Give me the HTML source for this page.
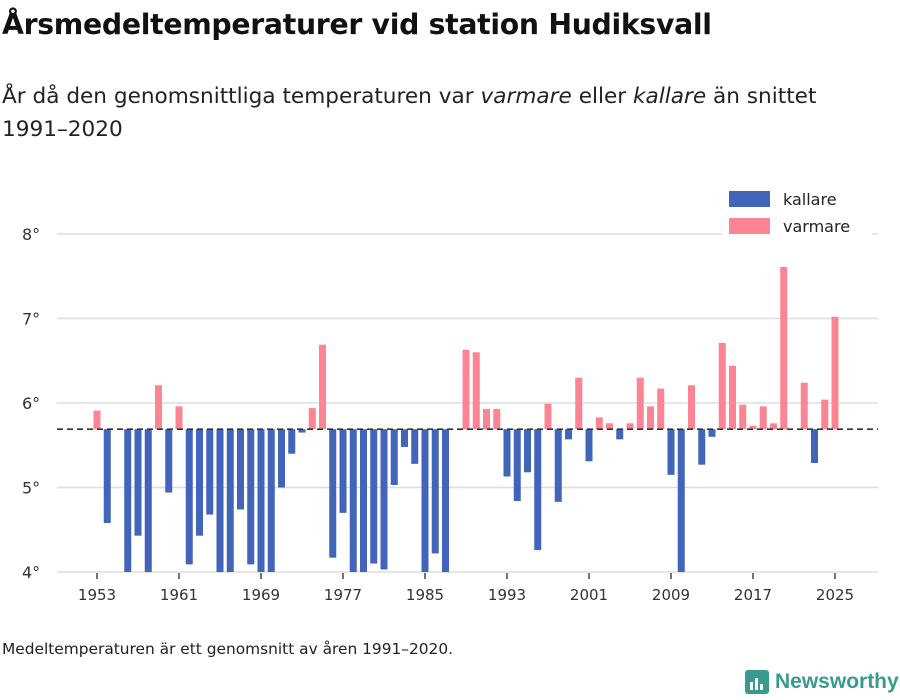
<!DOCTYPE html>
<html><head><meta charset="utf-8"><style>
body{margin:0;background:#fff;font-family:"DejaVu Sans","Liberation Sans",sans-serif;color:#222;}
#wrap{position:relative;width:900px;height:700px;overflow:hidden;}
h1{position:absolute;left:2px;top:8px;margin:0;font-size:28.3px;font-weight:bold;color:#111;white-space:nowrap;letter-spacing:-0.3px;}
.sub{position:absolute;left:2px;top:80px;margin:0;font-size:21.6px;line-height:33px;color:#222;width:880px;white-space:nowrap;}
.foot{position:absolute;left:2px;top:640px;font-size:15.4px;color:#222;}
.logo{position:absolute;left:745px;top:670px;display:flex;align-items:center;font-size:21px;font-weight:bold;color:#3a9a8e;font-family:"Liberation Sans",sans-serif;}
</style></head><body>
<div id="wrap">
<h1>Årsmedeltemperaturer vid station Hudiksvall</h1>
<p class="sub">År då den genomsnittliga temperaturen var <i>varmare</i> eller <i>kallare</i> än snittet<br>1991–2020</p>
<svg id="chart" width="900" height="700" style="position:absolute;left:0;top:0"></svg>
<div class="foot">Medeltemperaturen är ett genomsnitt av åren 1991–2020.</div>
<div class="logo"><svg width="24" height="24" style="margin-right:6px"><rect width="24" height="24" rx="3" fill="#3a9a8e"/><rect x="5" y="12" width="3" height="8" fill="#fff"/><rect x="10" y="8" width="3" height="12" fill="#fff"/><rect x="15" y="14" width="3" height="6" fill="#fff"/></svg>Newsworthy</div>
</div>
<script>
const startYear = 1953;
const values = [5.91,4.58,null,3.99,4.43,4.0,6.21,4.94,5.96,4.09,4.43,4.68,4.0,4.0,4.74,4.09,4.0,4.0,5.0,5.40,5.65,5.94,6.69,4.17,4.70,4.0,4.0,4.10,4.03,5.03,5.48,5.28,4.0,4.22,4.0,null,6.63,6.60,5.93,5.93,5.13,4.84,5.18,4.26,5.99,4.83,5.57,6.30,5.31,5.83,5.76,5.57,5.76,6.30,5.96,6.17,5.15,3.99,6.21,5.27,5.60,6.71,6.44,5.98,5.73,5.96,5.76,7.61,null,6.24,5.29,6.04,7.02];
const baseline = 5.69;
const yTicks = [4,5,6,7,8];
const xTicks = [1953,1961,1969,1977,1985,1993,2001,2009,2017,2025];
const NS='http://www.w3.org/2000/svg';
const svg=document.getElementById('chart');
const x=y=>97+(y-1953)*10.25;
const yS=v=>572-(v-4)*84.5;
function el(t,a){const e=document.createElementNS(NS,t);for(const k in a)e.setAttribute(k,a[k]);svg.appendChild(e);return e;}
yTicks.forEach(t=>{
 const g=el('line',{x1:57,x2:878,y1:yS(t),y2:yS(t),stroke:'#ddd','stroke-width':1.5});
 
 
 const l=el('text',{x:22,y:yS(t)+6,'font-size':16,fill:'#333'});l.textContent=t+'°';
 
 
});
xTicks.forEach(t=>{
 const m=el('line',{x1:x(t),x2:x(t),y1:573,y2:579,stroke:'#444','stroke-width':1.5});
 
 
 const l=el('text',{x:x(t),y:600,'font-size':15,fill:'#333','text-anchor':'middle'});l.textContent=t;
 
 
});
values.forEach((v,i)=>{
 if(v===null)return;
 const yr=startYear+i;const warm=v>=baseline;
 const vv=Math.max(v,4);
 const y0=Math.min(yS(vv),yS(baseline)),h=Math.abs(yS(vv)-yS(baseline));
 const b=el('rect',{x:x(yr)-3.5,y:y0,width:7,height:h,fill:warm?'#fc8493':'#4264b9'});
 
 
});
const bl=el('line',{x1:57,x2:878,y1:yS(baseline),y2:yS(baseline),stroke:'#333','stroke-width':1.6,'stroke-dasharray':'6,4'});


const lb=el('rect',{x:722,y:184,width:150,height:56,fill:'#fff'});


[['kallare','#4264b9',191],['varmare','#fc8493',218]].forEach(([n,c,yy])=>{
 const r=el('rect',{x:729,y:yy,width:41,height:16,fill:c});
 
 
 const t=el('text',{x:783,y:yy+14,'font-size':16,fill:'#222'});t.textContent=n;
 
 
});
</script>
</body></html>
